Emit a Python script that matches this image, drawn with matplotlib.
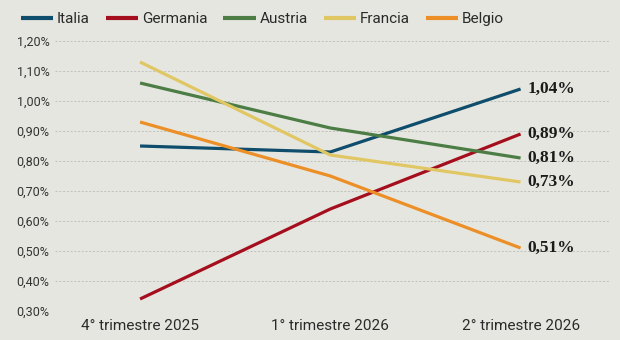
import matplotlib.pyplot as plt
from matplotlib.ticker import FuncFormatter

quarters = ['4° trimestre 2025', '1° trimestre 2026', '2° trimestre 2026']
italia = [0.85, 0.83, 1.04]
germania = [0.34, 0.64, 0.89]
austria = [1.06, 0.91, 0.81]
francia = [1.13, 0.82, 0.73]
belgio = [0.93, 0.75, 0.51]

names = ['Italia', 'Germania', 'Austria', 'Francia', 'Belgio']
colors = ['#0e4d6b', '#a50f1d', '#4b7d45', '#e1c764', '#ec8f26']
yticks = [0.30, 0.40, 0.50, 0.60, 0.70, 0.80, 0.90, 1.00, 1.10, 1.20]

BG = '#e6e6e1'
SANS = ['Roboto', 'DejaVu Sans']

fig = plt.figure(figsize=(6.2, 3.4), dpi=100, facecolor=BG)
ax = fig.add_axes([55 / 620, 1 - 311 / 340, 555 / 620, 270 / 340])
ax.set_facecolor(BG)

x = list(range(len(quarters)))
for name, vals, col in zip(names, [italia, germania, austria, francia, belgio], colors):
    ax.plot(x, vals, color=col, lw=2.3, label=name, clip_on=False, solid_capstyle='butt', zorder=3)
    ax.annotate(f'{vals[-1]:.2f}%'.replace('.', ','), (x[-1], vals[-1]),
                xytext=(5, 0), textcoords='offset points', va='center', ha='left',
                fontsize=12.5, fontweight='bold', family=['Liberation Serif', 'DejaVu Serif'],
                color='#1a1a1a')

ax.set_xlim(-0.447, 2.47)
ax.set_ylim(0.30, 1.20)
ax.set_yticks(yticks)
ax.yaxis.set_major_formatter(FuncFormatter(lambda v, p: f'{v:.2f}%'.replace('.', ',')))
ax.set_xticks(x)
ax.set_xticklabels(quarters)
for s in ax.spines.values():
    s.set_visible(False)
ax.grid(axis='y', color='#bdbdb8', ls=(0, (2.5, 2)), lw=0.6)
ax.tick_params(axis='y', length=0, pad=4, labelsize=9, labelcolor='#333333')
ax.tick_params(axis='x', length=0, pad=6, labelsize=11, labelcolor='#2a2a2a')
for lab in ax.get_yticklabels() + ax.get_xticklabels():
    lab.set_family(SANS)

leg = fig.legend(loc='upper left', bbox_to_anchor=(0.012, 1.005), ncol=5, frameon=False,
                 handlelength=2.1, handletextpad=0.25, columnspacing=1.05,
                 prop={'family': SANS, 'size': 11})
for t in leg.get_texts():
    t.set_color('#2a2a2a')
for h in leg.legend_handles:
    h.set_linewidth(3)

fig.savefig('out.png', dpi=100, facecolor=BG)
